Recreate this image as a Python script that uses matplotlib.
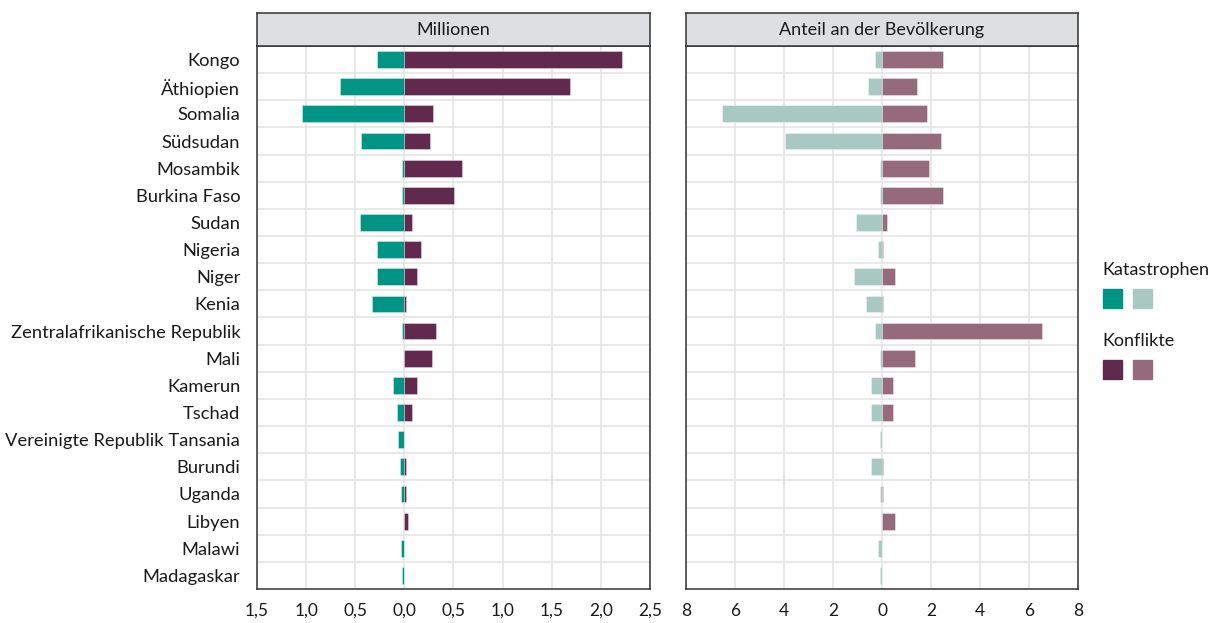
import matplotlib.pyplot as plt
from matplotlib.patches import Rectangle
from matplotlib.ticker import FixedLocator, FuncFormatter

laender = ["Kongo", "Äthiopien", "Somalia", "Südsudan", "Mosambik", "Burkina Faso",
           "Sudan", "Nigeria", "Niger", "Kenia", "Zentralafrikanische Republik", "Mali",
           "Kamerun", "Tschad", "Vereinigte Republik Tansania", "Burundi", "Uganda",
           "Libyen", "Malawi", "Madagaskar"]

# Millionen
kat_mio = [0.28, 0.66, 1.04, 0.44, 0.02, 0.02, 0.45, 0.28, 0.28, 0.33,
           0.02, 0.005, 0.115, 0.075, 0.06, 0.047, 0.034, 0.0, 0.034, 0.02]
konf_mio = [2.21, 1.69, 0.29, 0.265, 0.59, 0.51, 0.074, 0.17, 0.13, 0.017,
            0.32, 0.28, 0.13, 0.074, 0.0, 0.017, 0.017, 0.037, 0.0, 0.0]

# Anteil an der Bevölkerung (%)
kat_ant = [0.28, 0.57, 6.52, 3.95, 0.08, 0.08, 1.05, 0.16, 1.13, 0.65,
           0.28, 0.08, 0.43, 0.43, 0.08, 0.43, 0.08, 0.0, 0.16, 0.08]
konf_ant = [2.47, 1.43, 1.85, 2.40, 1.92, 2.47, 0.19, 0.05, 0.53, 0.05,
            6.55, 1.36, 0.46, 0.46, 0.0, 0.05, 0.05, 0.53, 0.0, 0.0]

teal = "#009485"
teal_hell = "#a8c8c2"
lila = "#62294f"
lila_hell = "#956b7c"

plt.rcParams['font.family'] = ['Lato', 'DejaVu Sans']

W, H = 1214, 623
fig = plt.figure(figsize=(W / 100, H / 100), dpi=100)


def px_axes(x0, y0, x1, y1):
    return fig.add_axes([x0 / W, 1 - y1 / H, (x1 - x0) / W, (y1 - y0) / H])


def panel(x0, x1, links, rechts, c_links, c_rechts, xlim, ticks, fmt, titel, ylabels):
    ax = px_axes(x0, 46, x1, 589)
    y = list(range(len(laender)))
    ax.barh(y, [-v for v in links], height=0.62, color=c_links,
            edgecolor=(1, 1, 1, 0.4), linewidth=0.6, zorder=3)
    ax.barh(y, rechts, height=0.62, color=c_rechts,
            edgecolor=(1, 1, 1, 0.4), linewidth=0.6, zorder=3)
    ax.set_xlim(*xlim)
    ax.set_ylim(len(laender) - 0.5, -0.5)
    ax.xaxis.set_major_locator(FixedLocator(ticks))
    ax.xaxis.set_major_formatter(FuncFormatter(fmt))
    ax.set_yticks(y)
    ax.set_yticks([i + 0.5 for i in range(len(laender) - 1)], minor=True)
    if ylabels:
        ax.set_yticklabels(laender)
    else:
        ax.set_yticklabels([])
    ax.grid(True, axis='x', which='major', color='#e3e3e3', lw=1.1, zorder=0)
    ax.grid(True, axis='y', which='minor', color='#e3e3e3', lw=1.1, zorder=0)
    ax.tick_params(axis='both', which='both', length=0)
    ax.tick_params(axis='x', pad=10, labelsize=12.5, colors='#1a1a1a')
    ax.tick_params(axis='y', pad=12, labelsize=13.2, colors='#1a1a1a')
    for s in ax.spines.values():
        s.set_color('#333333')
        s.set_linewidth(1.1)

    st = px_axes(x0, 13, x1, 46)
    st.set_facecolor('#dedfe0')
    st.set_xticks([])
    st.set_yticks([])
    for s in st.spines.values():
        s.set_color('#333333')
        s.set_linewidth(1.1)
    st.text(0.5, 0.47, titel, ha='center', va='center', fontsize=13,
            color='#1a1a1a', transform=st.transAxes)
    return ax


panel(257, 650, kat_mio, konf_mio, teal, lila, (-1.5, 2.5),
      [-1.5, -1.0, -0.5, 0, 0.5, 1.0, 1.5, 2.0, 2.5],
      lambda v, p: f"{abs(v):.1f}".replace(".", ","), "Millionen", True)
panel(686, 1078, kat_ant, konf_ant, teal_hell, lila_hell, (-8, 8),
      [-8, -6, -4, -2, 0, 2, 4, 6, 8],
      lambda v, p: f"{abs(v):.0f}", "Anteil an der Bevölkerung", False)


# Legende
def legende(y_titel, titel, c1, c2):
    fig.text(1102 / W, 1 - y_titel / H, titel, fontsize=13, color='#1a1a1a',
             ha='left', va='center')
    y_box = y_titel + 38
    for x, c in [(1103, c1), (1133, c2)]:
        fig.patches.append(Rectangle((x / W, 1 - y_box / H), 19 / W, 19 / H,
                                     transform=fig.transFigure, color=c))


legende(270, "Katastrophen", teal, teal_hell)
legende(341, "Konflikte", lila, lila_hell)

fig.savefig("out.png", dpi=100)
